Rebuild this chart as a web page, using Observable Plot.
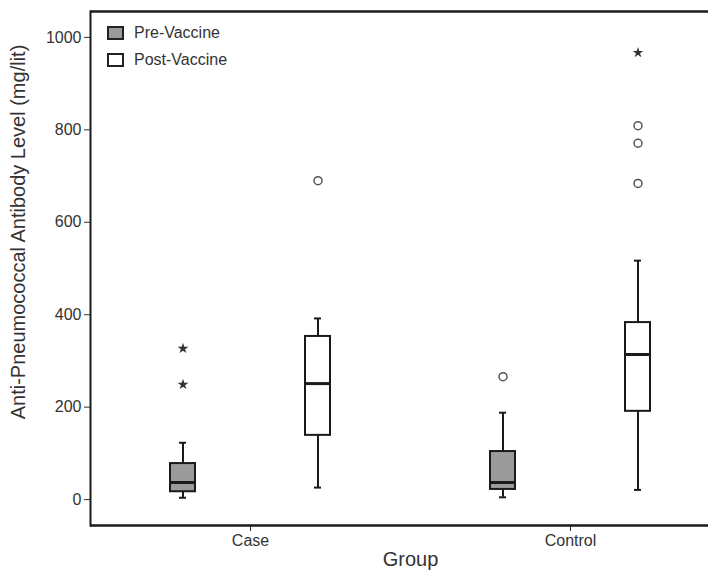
<!DOCTYPE html>
<html>
<head>
<meta charset="utf-8">
<script src="https://cdn.jsdelivr.net/npm/d3@7"></script>
<script src="https://cdn.jsdelivr.net/npm/@observablehq/plot@0.6"></script>
<style>
  html, body { margin: 0; padding: 0; background: #fff; overflow: hidden; }
  #wrap { position: relative; width: 708px; height: 572px; overflow: hidden; }
  #wrap svg { max-width: none !important; }
  #wrap [aria-label="fx-axis label"] text { font-size: 20px; }
  .legend { position: absolute; left: 107px; font: 16px "Liberation Sans", Arial, sans-serif; color: #333; display: flex; align-items: center; }
  .sw { width: 13px; height: 10px; border: 2px solid #222; margin-right: 10px; }
  .ylab { position: absolute; left: 18px; top: 232px; transform: translate(-50%, -50%) rotate(-90deg); white-space: nowrap; font: 20px "Liberation Sans", Arial, sans-serif; color: #333; }
</style>
</head>
<body>
<div id="wrap"></div>
<script>
// ---- data ----
const groupNames = ["Case", "Control"];
const phaseNames = ["Pre-Vaccine", "Post-Vaccine"];

const boxGroup = ["Case", "Case", "Control", "Control"];
const boxPhase = ["Pre-Vaccine", "Post-Vaccine", "Pre-Vaccine", "Post-Vaccine"];
const whiskerLow  = [4, 26, 5, 21];
const quartile1   = [17, 139, 22, 191];
const medianValue = [37, 251, 37, 314];
const quartile3   = [78, 353, 104, 383];
const whiskerHigh = [123, 392, 188, 517];

const outlierGroup = ["Case", "Case", "Case", "Control", "Control", "Control", "Control", "Control"];
const outlierPhase = ["Pre-Vaccine", "Pre-Vaccine", "Post-Vaccine", "Pre-Vaccine", "Post-Vaccine", "Post-Vaccine", "Post-Vaccine", "Post-Vaccine"];
const outlierValue = [327, 249, 690, 266, 967, 809, 771, 684];
const outlierKind  = ["extreme", "extreme", "outlier", "outlier", "extreme", "outlier", "outlier", "outlier"];

const yTicks = [0, 200, 400, 600, 800, 1000];
const yDomain = [-56, 1056];
const yLabel = "Anti-Pneumococcal Antibody Level (mg/lit)";
const xLabel = "Group";
const boxFill = ["#9b9b9b", "#ffffff"];

// ---- tables ----
const boxes = boxGroup.map((g, i) => ({
  group: g, phase: boxPhase[i], lo: whiskerLow[i], q1: quartile1[i],
  med: medianValue[i], q3: quartile3[i], hi: whiskerHigh[i]
}));
const outliers = outlierGroup.map((g, i) => ({
  group: g, phase: outlierPhase[i], value: outlierValue[i], kind: outlierKind[i]
}));

const ink = "#1a1a1a";
const chart = Plot.plot({
  width: 730,
  height: 572,
  marginLeft: 89,
  marginRight: 0,
  marginTop: 11,
  marginBottom: 47,
  style: { fontFamily: "'Liberation Sans', Arial, sans-serif", fontSize: "16px", color: "#333", background: "#fff" },
  fx: { domain: groupNames, paddingInner: 0, paddingOuter: 0, axis: "bottom", tickSize: 6, tickPadding: 3, label: xLabel, labelAnchor: "center", labelOffset: 40 },
  x: { domain: phaseNames, paddingInner: 0.815, paddingOuter: 0.5926, axis: null },
  y: { domain: yDomain, ticks: yTicks, tickFormat: d => String(d), tickSize: 6, tickPadding: 3, label: null },
  color: { domain: phaseNames, range: boxFill },
  marks: [
    Plot.ruleY(yDomain, { stroke: ink, strokeWidth: 2.5, strokeLinecap: "butt" }),
    Plot.frame({ anchor: "left", fx: "Case", stroke: ink, strokeWidth: 2 }),
    Plot.ruleX(boxes, { fx: "group", x: "phase", y1: "lo", y2: "q1", stroke: ink, strokeWidth: 2 }),
    Plot.ruleX(boxes, { fx: "group", x: "phase", y1: "q3", y2: "hi", stroke: ink, strokeWidth: 2 }),
    Plot.tickY(boxes, { fx: "group", x: "phase", y: "lo", stroke: ink, strokeWidth: 2, insetLeft: 9, insetRight: 9 }),
    Plot.tickY(boxes, { fx: "group", x: "phase", y: "hi", stroke: ink, strokeWidth: 2, insetLeft: 9, insetRight: 9 }),
    Plot.barY(boxes, { fx: "group", x: "phase", y1: "q1", y2: "q3", fill: "phase", stroke: ink, strokeWidth: 2 }),
    Plot.tickY(boxes, { fx: "group", x: "phase", y: "med", stroke: ink, strokeWidth: 3 }),
    Plot.dot(outliers.filter(d => d.kind === "outlier"), { fx: "group", x: "phase", y: "value", r: 4, stroke: "#555", strokeWidth: 1.5, fill: "#fff" }),
    Plot.dot(outliers.filter(d => d.kind === "extreme"), { fx: "group", x: "phase", y: "value", symbol: "star", r: 3.4, fill: "#333", stroke: "none" })
  ]
});
const wrap = document.getElementById("wrap");
wrap.appendChild(chart);

// y-axis title (rotated)
const yl = document.createElement("div");
yl.className = "ylab";
yl.textContent = yLabel;
wrap.appendChild(yl);

// legend (inside the plot frame, top-left)
phaseNames.forEach((p, i) => {
  const row = document.createElement("div");
  row.className = "legend";
  row.style.top = (24 + i * 27) + "px";
  const sw = document.createElement("div");
  sw.className = "sw";
  sw.style.background = boxFill[i];
  row.appendChild(sw);
  row.appendChild(document.createTextNode(p));
  wrap.appendChild(row);
});
</script>
</body>
</html>
